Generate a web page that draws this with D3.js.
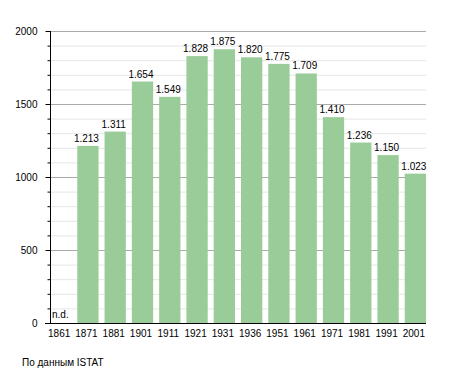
<!DOCTYPE html>
<html>
<head>
<meta charset="utf-8">
<script src="https://cdn.jsdelivr.net/npm/d3@7"></script>
<style>
  body { margin: 0; background: #fff; }
  text { font-family: "Liberation Sans", Arial, sans-serif; fill: #000; }
</style>
</head>
<body>
<svg id="chart"></svg>
<script>
const years = ['1861', '1871', '1881', '1901', '1911', '1921', '1931', '1936', '1951', '1961', '1971', '1981', '1991', '2001'];
const population = [null, 1213, 1311, 1654, 1549, 1828, 1875, 1820, 1775, 1709, 1410, 1236, 1150, 1023];
const majorTicks = [0, 500, 1000, 1500, 2000];
const sourceText = 'По данным  ISTAT';

const width = 455;
const height = 373;

const svg = d3.select('#chart')
  .attr('width', width)
  .attr('height', height);

const x = d3.scaleBand()
  .domain(years)
  .range([50, 426])
  .paddingInner(0.22)
  .paddingOuter(0);

const y = d3.scaleLinear()
  .domain([0, 2000])
  .range([323, 31]);

// minor grid every 100
svg.append('g')
  .selectAll('line')
  .data(d3.range(100, 2001, 100).filter(d => d % 500 !== 0))
  .enter()
  .append('line')
  .attr('x1', 50)
  .attr('x2', 426)
  .attr('y1', d => y(d) + 0.5)
  .attr('y2', d => y(d) + 0.5)
  .attr('stroke', '#e6e6e6');

// major grid
svg.append('g')
  .selectAll('line')
  .data(majorTicks.filter(d => d > 0))
  .enter()
  .append('line')
  .attr('x1', 50)
  .attr('x2', 426)
  .attr('y1', d => y(d) + 0.5)
  .attr('y2', d => y(d) + 0.5)
  .attr('stroke', '#aaa');

svg.append('g')
  .selectAll('rect')
  .data(years.map((d, i) => ({ year: d, value: population[i] })).filter(d => d.value !== null))
  .enter()
  .append('rect')
  .attr('x', d => x(d.year))
  .attr('y', d => y(d.value))
  .attr('width', x.bandwidth())
  .attr('height', d => y(0) - y(d.value))
  .attr('fill', '#99cc99');

svg.append('g')
  .selectAll('text')
  .data(years.map((d, i) => ({ year: d, value: population[i] })))
  .enter()
  .append('text')
  .attr('x', d => d.value === null ? x(d.year) + 2 : x(d.year) + x.bandwidth() / 2 - 1.5)
  .attr('y', d => d.value === null ? y(0) - 5 : y(d.value) - 4)
  .attr('text-anchor', d => d.value === null ? 'start' : 'middle')
  .style('font-size', '10px')
  .text(d => d.value === null ? 'n.d.' : d3.format(',')(d.value).replace(',', '.'));

// y axis
const yAxis = svg.append('g')
  .attr('transform', 'translate(50.5,0)')
  .call(d3.axisLeft(y).tickValues(majorTicks).tickSize(5).tickFormat(d3.format('d')));
yAxis.select('.domain').attr('d', `M0,${y(2000)}V${y(0)}`).attr('stroke', '#000');
yAxis.selectAll('.tick text')
  .attr('x', -13)
  .style('font-size', '10px')
  .style('font-family', '"Liberation Sans", Arial, sans-serif');

svg.append('g')
  .attr('transform', 'translate(50.5,0)')
  .selectAll('line')
  .data(d3.range(100, 2000, 100).filter(d => d % 500 !== 0))
  .enter()
  .append('line')
  .attr('x1', -3)
  .attr('x2', 0)
  .attr('y1', d => y(d) + 0.5)
  .attr('y2', d => y(d) + 0.5)
  .attr('stroke', '#000');

// x axis
const xAxis = svg.append('g')
  .attr('transform', `translate(0,${y(0) + 0.5})`)
  .call(d3.axisBottom(x).tickSize(0).tickPadding(6));
xAxis.select('.domain').attr('d', 'M45,0H426').attr('stroke', '#000');
xAxis.selectAll('.tick text')
  .attr('dx', -1.5)
  .style('font-size', '10px')
  .style('font-family', '"Liberation Sans", Arial, sans-serif');

svg.append('text')
  .attr('x', 22)
  .attr('y', 366)
  .style('font-size', '10px')
  .text(sourceText);
</script>
</body>
</html>
